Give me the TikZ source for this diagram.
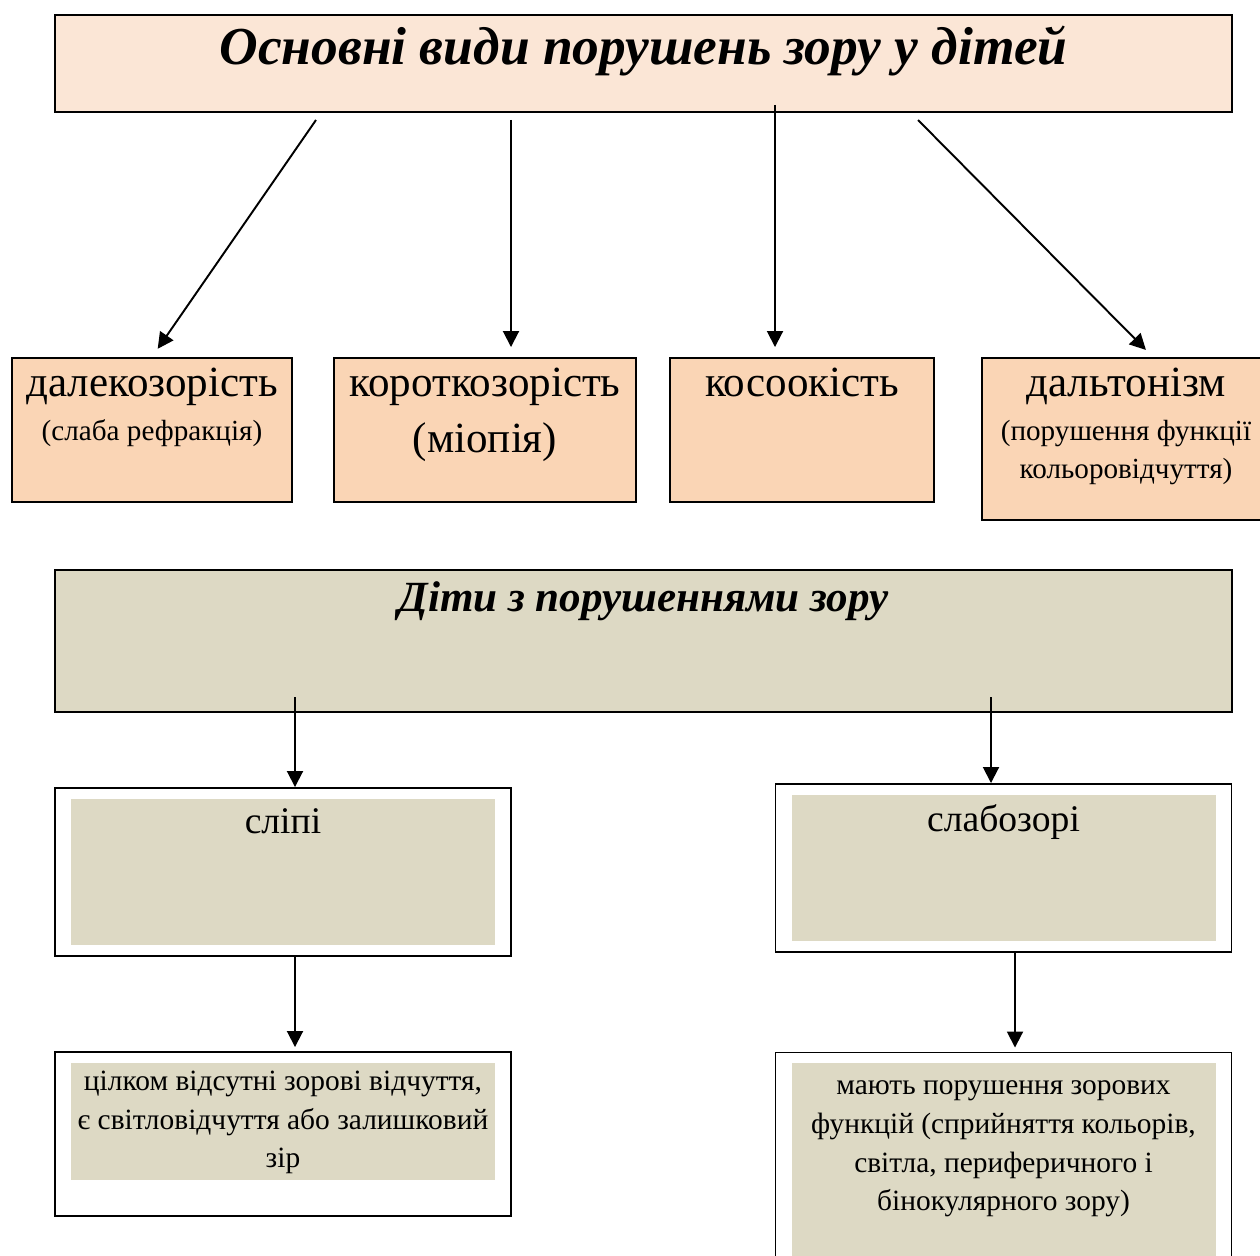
\documentclass[tikz,border=0pt]{standalone}
\usepackage{fontspec}
\setmainfont{Liberation Serif}
\usepackage{xcolor}
\definecolor{PeachLight}{RGB}{251, 230, 214}
\definecolor{Peach}{RGB}{250, 213, 181}
\definecolor{Tan}{RGB}{221, 217, 196}
\usepackage{tikz}
\usetikzlibrary{arrows.meta, positioning, calc}

\newcommand{\subtxt}{\fontsize{16.6}{22}\selectfont}

\begin{document}
\begin{tikzpicture}[
        head/.style={rectangle, draw=black, line width=1.1pt, fill=PeachLight, minimum width=23.54cm, minimum height=1.94cm},
        kind/.style={rectangle, draw=black, line width=1.1pt, fill=Peach, minimum height=2.88cm},
        frame/.style={rectangle, draw=black, line width=1.1pt, fill=white, minimum width=9.12cm},
        inner/.style={rectangle, fill=Tan, minimum width=8.48cm},
        txt/.style={anchor=north, align=center, inner sep=0pt},
        big/.style={font=\fontsize{24.5}{31.8}\selectfont},
        link/.style={-{Triangle[length=0.32cm, width=0.32cm]}, line width=1.1pt}
    ]
        \useasboundingbox (0,0) rectangle (25.2,-25.12);

        % --- TOP ---
        \node[head] (title) at (12.87,-1.27) {};
        \node[txt, font=\fontsize{30.4}{34}\selectfont\bfseries\itshape] (titletxt) at ([yshift=-0.24cm]title.north) {Основні види порушень зору у дітей};

        % --- KINDS ---
        \node[kind, minimum width=5.6cm] (far) at (3.04,-8.6) {};
        \node[kind, minimum width=6.04cm] (near) at (9.70,-8.6) {};
        \node[kind, minimum width=5.28cm] (squint) at (16.04,-8.6) {};
        \node[kind, minimum width=5.66cm, minimum height=3.24cm] (dalt) at (22.47,-8.78) {};

        \node[txt, big] (fartxt) at ([yshift=-0.22cm]far.north) {далекозорість\\[-7pt]{\subtxt (слаба рефракція)}};
        \node[txt, big] (neartxt) at ([yshift=-0.22cm]near.north) {короткозорість\\(міопія)};
        \node[txt, big] (squinttxt) at ([yshift=-0.22cm]squint.north) {косоокість};
        \node[txt, big] (dalttxt) at ([xshift=0.05cm, yshift=-0.22cm]dalt.north) {дальтонізм\\[-7pt]{\subtxt (порушення функції}\\[-10pt]{\subtxt кольоровідчуття)}};

        \coordinate (a1) at (6.32,-2.4);
        \coordinate (a2) at (10.22,-2.4);
        \coordinate (a3) at (15.5,-2.1);
        \coordinate (a4) at (18.36,-2.4);
        \draw[link, shorten >=0.2cm] (a1) -- (far.north);
        \draw[link, shorten >=0.2cm] (a2) -- (a2 |- near.north);
        \draw[link, shorten >=0.2cm] (a3) -- (a3 |- squint.north);
        \draw[link, shorten >=0.2cm] (a4) -- ([xshift=0.59cm]dalt.north);

        % --- CHILDREN ---
        \node[rectangle, draw=black, line width=1.1pt, fill=Tan, minimum width=23.54cm, minimum height=2.84cm] (kids) at (12.87,-12.82) {};
        \node[txt, font=\fontsize{24.5}{28}\selectfont\bfseries\itshape] (kidstxt) at ([yshift=-0.24cm]kids.north) {Діти з порушеннями зору};

        \node[frame, minimum height=3.36cm] (blind) at (5.66,-17.44) {};
        \node[inner, minimum height=2.92cm] (blindin) at (blind.center) {};
        \node[txt, font=\fontsize{21.4}{26}\selectfont] (blindtxt) at ([yshift=-0.2cm]blindin.north) {сліпі};

        \node[frame, minimum height=3.36cm] (low) at (20.07,-17.36) {};
        \node[inner, minimum height=2.92cm] (lowin) at (low.center) {};
        \node[txt, font=\fontsize{21.4}{26}\selectfont] (lowtxt) at ([yshift=-0.2cm]lowin.north) {слабозорі};

        \coordinate (k1) at (5.9,-13.94);
        \coordinate (k2) at (19.82,-13.94);
        \draw[link] (k1) -- (k1 |- blind.north);
        \draw[link] (k2) -- (k2 |- low.north);

        % --- DESCRIPTIONS ---
        \node[frame, minimum height=3.28cm] (blinddesc) at (5.66,-22.68) {};
        \node[inner, minimum height=2.34cm] (blinddescin) at (5.66,-22.43) {};
        \node[txt, font=\fontsize{16.75}{22}\selectfont] (blinddesctxt) at ([yshift=-0.16cm]blinddescin.north) {цілком відсутні зорові відчуття,\\є світловідчуття або залишковий\\зір};

        \node[frame, minimum height=4.3cm] (lowdesc) at (20.07,-23.2) {};
        \node[inner, minimum height=4.2cm] (lowdescin) at (20.07,-23.36) {};
        \node[txt, font=\fontsize{16.75}{22}\selectfont] (lowdesctxt) at ([yshift=-0.36cm]lowdescin.north) {мають порушення зорових\\функцій (сприйняття кольорів,\\світла, периферичного і\\бінокулярного зору)};

        \coordinate (b1) at (5.9,-19.12);
        \coordinate (b2) at (20.3,-19.04);
        \draw[link, shorten >=0.08cm] (b1) -- (b1 |- blinddesc.north);
        \draw[link, shorten >=0.08cm] (b2) -- (b2 |- lowdesc.north);

    \end{tikzpicture}
\end{document}
